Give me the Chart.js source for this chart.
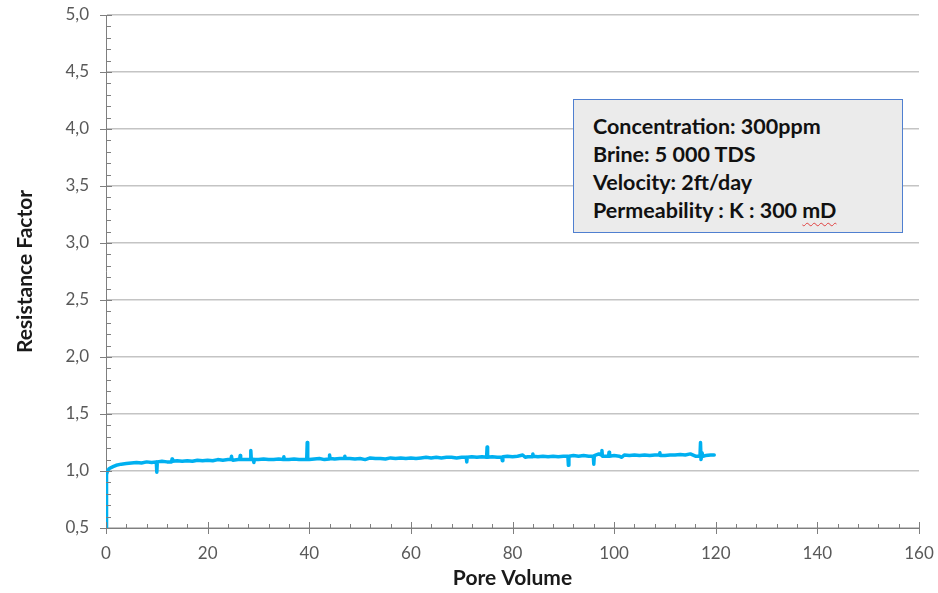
<!DOCTYPE html>
<html>
<head>
<meta charset="utf-8">
<script src="https://cdn.jsdelivr.net/npm/chart.js@4.4.1/dist/chart.umd.min.js"></script>
<style>
  html, body { margin:0; padding:0; background:#fff; }
  #wrap { position:relative; width:938px; height:593px; }
  #note {
    position:absolute; left:573px; top:99px; width:330px; height:134px;
    background:#ebebeb; border:1.5px solid #4f7fd0;
    font-family: Lato, "Open Sans", sans-serif; font-weight:bold; font-size:21.5px;
    color:#111; line-height:28px; padding:12px 0 0 19px; box-sizing:border-box;
  }
  .sp { text-decoration: underline wavy #e04040; text-decoration-thickness:1px; text-underline-offset:4px; }
</style>
</head>
<body>
<div id="wrap">
  <canvas id="chart" width="938" height="593"></canvas>
  <div id="note">
    Concentration: 300ppm<br>
    Brine: 5 000 TDS<br>
    Velocity: 2ft/day<br>
    Permeability : K : 300 <span class="sp">mD</span>
  </div>
</div>
<script>
// pore volume (x) and resistance factor (y)
const poreVolume = [0, 0.1, 0.3, 0.6, 1, 1.5, 2, 3, 4, 5, 6, 7, 8, 9, 9.9, 10, 10.1, 11, 12, 12.9, 13, 13.1, 14, 15, 16, 17, 18, 19, 20,
  21, 22, 23, 24, 24.6, 24.7, 24.8, 25, 26, 26.3, 26.4, 26.5, 27, 28, 28.4, 28.5, 28.6, 29, 29.1, 29.2, 30, 31, 32, 33, 34, 34.9, 35, 35.1, 36, 37, 38, 39, 39.5, 39.6, 39.7, 40,
  41, 42, 43, 43.9, 44, 44.1, 45, 46, 46.9, 47, 47.1, 48, 49, 50, 51, 52, 53, 54, 55, 56, 57, 58, 59, 60,
  61, 62, 63, 64, 65, 66, 67, 68, 69, 70, 70.9, 71, 71.1, 72, 73, 74, 74.9, 75, 75.1, 76, 77, 77.9, 78, 78.1, 79, 80,
  81, 82, 82.5, 83, 83.9, 84, 84.1, 85, 86, 87, 88, 89, 90, 90.9, 91, 91.1, 92, 93, 94, 95, 95.9, 96, 96.1, 97, 97.5, 97.6, 97.7, 98, 98.9, 99, 99.1, 100,
  101, 101.5, 102, 103, 104, 105, 106, 107, 108, 108.9, 109, 109.1, 110, 111, 112, 113, 114, 115, 116, 116.9, 117, 117.1, 117.3, 117.5, 118, 119, 119.7];
const resistanceFactor = [0.5, 0.97, 1.0, 1.02, 1.03, 1.04, 1.05, 1.06, 1.065, 1.07, 1.075, 1.07, 1.08, 1.075, 1.08, 0.99, 1.08, 1.085, 1.08, 1.08, 1.105, 1.085, 1.09, 1.085, 1.09, 1.085, 1.095, 1.09, 1.095,
  1.09, 1.1, 1.095, 1.1, 1.1, 1.13, 1.1, 1.095, 1.1, 1.1, 1.135, 1.1, 1.1, 1.1, 1.1, 1.18, 1.1, 1.1, 1.075, 1.1, 1.1, 1.105, 1.1, 1.1, 1.105, 1.1, 1.125, 1.1, 1.1, 1.105, 1.1, 1.1, 1.1, 1.25, 1.1, 1.1,
  1.105, 1.11, 1.1, 1.105, 1.14, 1.11, 1.105, 1.11, 1.11, 1.13, 1.11, 1.11, 1.105, 1.11, 1.1, 1.115, 1.11, 1.11, 1.105, 1.115, 1.11, 1.115, 1.11, 1.115,
  1.11, 1.115, 1.12, 1.115, 1.12, 1.115, 1.12, 1.12, 1.115, 1.12, 1.12, 1.08, 1.12, 1.125, 1.12, 1.125, 1.12, 1.21, 1.12, 1.125, 1.12, 1.12, 1.09, 1.125, 1.13, 1.125,
  1.13, 1.14, 1.12, 1.125, 1.125, 1.15, 1.13, 1.125, 1.13, 1.125, 1.13, 1.125, 1.13, 1.13, 1.05, 1.13, 1.135, 1.13, 1.135, 1.13, 1.13, 1.06, 1.135, 1.15, 1.14, 1.18, 1.13, 1.13, 1.13, 1.165, 1.13, 1.135,
  1.13, 1.12, 1.14, 1.135, 1.14, 1.135, 1.14, 1.135, 1.14, 1.14, 1.16, 1.135, 1.135, 1.14, 1.14, 1.145, 1.14, 1.15, 1.13, 1.13, 1.25, 1.1, 1.16, 1.13, 1.135, 1.14, 1.14];

const xMin = 0, xMax = 160, xMajor = 20, xMinor = 4;
const yMin = 0.5, yMax = 5.0, yMajor = 0.5, yMinor = 0.1;

const isMajor = (v, step) => Math.abs(v / step - Math.round(v / step)) < 1e-6;
const fmt = v => v.toFixed(1).replace('.', ',');

// draws Excel-style major/minor tick marks on both axes
const tickMarks = {
  id: 'tickMarks',
  afterDraw(chart) {
    const ctx = chart.ctx, xs = chart.scales.x, ys = chart.scales.y;
    const ax = chart.chartArea.left, ay = chart.chartArea.bottom;
    ctx.save();
    ctx.strokeStyle = '#7f7f7f';
    ctx.lineWidth = 1;
    ctx.beginPath();
    ys.ticks.forEach(t => {
      const py = Math.round(ys.getPixelForValue(t.value)) + 0.5;
      if (isMajor(t.value, yMajor)) { ctx.moveTo(ax - 6, py); ctx.lineTo(ax + 6, py); }
      else { ctx.moveTo(ax, py); ctx.lineTo(ax + 5, py); }
    });
    xs.ticks.forEach(t => {
      const px = Math.round(xs.getPixelForValue(t.value)) + 0.5;
      if (isMajor(t.value, xMajor)) { ctx.moveTo(px, ay - 6); ctx.lineTo(px, ay + 6); }
      else { ctx.moveTo(px, ay - 4); ctx.lineTo(px, ay); }
    });
    ctx.stroke();
    ctx.restore();
  }
};

const points = poreVolume.map((x, i) => ({ x: x, y: resistanceFactor[i] }));

new Chart(document.getElementById('chart').getContext('2d'), {
  type: 'line',
  data: { datasets: [{
    data: points, borderColor: '#00b0f0', borderWidth: 3.5, pointRadius: 0, tension: 0, fill: false,
    borderJoinStyle: 'round', borderCapStyle: 'round'
  }]},
  options: {
    responsive: false, animation: false,
    layout: { padding: { left: 13, right: 19, top: 15, bottom: 2 } },
    plugins: { legend: { display: false }, tooltip: { enabled: false } },
    scales: {
      x: {
        type: 'linear', min: xMin, max: xMax,
        afterFit: s => { s.height = 63; s.paddingLeft = 0; s.paddingRight = 0; },
        ticks: {
          stepSize: xMinor, autoSkip: false, maxRotation: 0, maxTicksLimit: 100, padding: 15,
          color: '#595959', font: { family: 'Lato', size: 17 },
          callback: v => isMajor(v, xMajor) ? String(Math.round(v)) : ''
        },
        grid: { drawOnChartArea: false, drawTicks: false },
        border: { color: '#7f7f7f', width: 1 },
        title: { display: true, text: 'Pore Volume', color: '#1a1a1a', font: { family: 'Lato', size: 21, weight: 'bold' }, padding: 0 }
      },
      y: {
        min: yMin, max: yMax,
        afterFit: s => { s.width = 93; s.paddingTop = 0; s.paddingBottom = 0; },
        ticks: {
          stepSize: yMinor, autoSkip: false, maxTicksLimit: 100, padding: 17,
          color: '#595959', font: { family: 'Lato', size: 17 },
          callback: v => isMajor(v, yMajor) ? fmt(v) : ''
        },
        grid: {
          drawTicks: false,
          color: c => (c.tick && isMajor(c.tick.value, yMajor)) ? '#c4c4c4' : 'rgba(0,0,0,0)',
          lineWidth: 1.5
        },
        border: { color: '#7f7f7f', width: 1 },
        title: { display: true, text: 'Resistance Factor', color: '#1a1a1a', font: { family: 'Lato', size: 21, weight: 'bold' }, padding: 0 }
      }
    }
  },
  plugins: [tickMarks]
});
</script>
</body>
</html>
